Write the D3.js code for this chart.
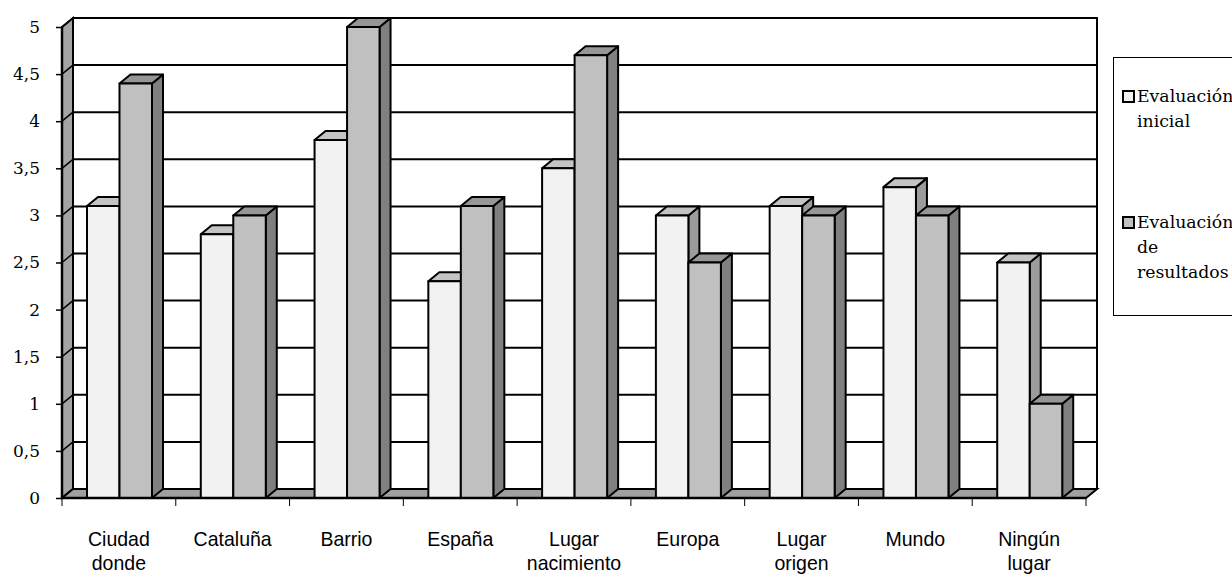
<!DOCTYPE html>
<html>
<head>
<meta charset="utf-8">
<script src="https://cdn.jsdelivr.net/npm/d3@7"></script>
<style>
  html, body { margin: 0; padding: 0; background: #fff; }
  svg { display: block; }
</style>
</head>
<body>
<svg id="chart" width="1232" height="577"></svg>
<script>
// Categories and the two evaluation series
const categories = ["Ciudad donde", "Cataluña", "Barrio", "España", "Lugar nacimiento",
                    "Europa", "Lugar origen", "Mundo", "Ningún lugar"];
const seriesNames = ["Evaluación inicial", "Evaluación de resultados"];
const inicial    = [3.1, 2.8, 3.8, 2.3, 3.5, 3.0, 3.1, 3.3, 2.5];
const resultados = [4.4, 3.0, 5.0, 3.1, 4.7, 2.5, 3.0, 3.0, 1.0];
const yTicks = [0, 0.5, 1, 1.5, 2, 2.5, 3, 3.5, 4, 4.5, 5];

const svg = d3.select("#chart");

// 3D depth offset of the back plane
const DX = 11, DY = -9;

const x = d3.scaleBand().domain(categories).range([62, 1086]).padding(0);
const xs = d3.scaleBand().domain([0, 1]).range([25, 90]).padding(0);
const y = d3.scaleLinear().domain([0, 5]).range([498, 27]);

const y0 = y(0), yMax = y(5);
const xL = x.range()[0], xR = x.range()[1];

const styles = [
  { front: "#f2f2f2", top: "#c4c4c4", side: "#9c9c9c" },
  { front: "#c0c0c0", top: "#969696", side: "#808080" }
];

const poly = pts => "M" + pts.map(p => p.join(",")).join("L") + "Z";

// back wall
svg.append("path")
  .attr("d", poly([[xL + DX, y0 + DY], [xL + DX, yMax + DY], [xR + DX, yMax + DY], [xR + DX, y0 + DY]]))
  .attr("fill", "#fff").attr("stroke", "#000").attr("stroke-width", 2);

// gridlines on the back wall
svg.append("g").selectAll("line").data(yTicks).join("line")
  .attr("x1", xL + DX).attr("x2", xR + DX)
  .attr("y1", d => y(d) + DY).attr("y2", d => y(d) + DY)
  .attr("stroke", "#000").attr("stroke-width", 2);

// side wall
svg.append("path")
  .attr("d", poly([[xL, y0], [xL + DX, y0 + DY], [xL + DX, yMax + DY], [xL, yMax]]))
  .attr("fill", "#a4a4a4").attr("stroke", "#000").attr("stroke-width", 2);
svg.append("g").selectAll("line").data(yTicks).join("line")
  .attr("x1", xL).attr("x2", xL + DX)
  .attr("y1", d => y(d)).attr("y2", d => y(d) + DY)
  .attr("stroke", "#000").attr("stroke-width", 1.5);

// floor
svg.append("path")
  .attr("d", poly([[xL, y0], [xR, y0], [xR + DX, y0 + DY], [xL + DX, y0 + DY]]))
  .attr("fill", "#a0a0a0").attr("stroke", "#000").attr("stroke-width", 2);

// bars
const series = [inicial, resultados];
categories.forEach((c, i) => {
  series.forEach((vals, s) => {
    const x0 = x(c) + xs(s), x1 = x0 + xs.bandwidth();
    const yt = y(vals[i]);
    const st = styles[s];
    const g = svg.append("g").attr("stroke", "#000").attr("stroke-width", 2).attr("stroke-linejoin", "round");
    g.append("path").attr("fill", st.side)
      .attr("d", poly([[x1, yt], [x1 + DX, yt + DY], [x1 + DX, y0 + DY], [x1, y0]]));
    g.append("path").attr("fill", st.top)
      .attr("d", poly([[x0, yt], [x0 + DX, yt + DY], [x1 + DX, yt + DY], [x1, yt]]));
    g.append("path").attr("fill", st.front)
      .attr("d", poly([[x0, yt], [x1, yt], [x1, y0], [x0, y0]]));
  });
});

// front edges of wall and floor
svg.append("line").attr("x1", xL).attr("x2", xL).attr("y1", yMax).attr("y2", y0)
  .attr("stroke", "#000").attr("stroke-width", 2.5);
svg.append("line").attr("x1", xL).attr("x2", xR).attr("y1", y0).attr("y2", y0)
  .attr("stroke", "#000").attr("stroke-width", 2.5);

// value axis
const fmt = d3.formatLocale({ decimal: ",", thousands: ".", grouping: [3], currency: ["", "€"] }).format("~g");
const yAxis = svg.append("g").attr("transform", `translate(${xL},0)`)
  .call(d3.axisLeft(y).tickValues(yTicks).tickSize(6).tickPadding(16).tickFormat(fmt));
yAxis.select(".domain").remove();
yAxis.selectAll(".tick line").attr("stroke", "#000").attr("stroke-width", 1.5);
yAxis.selectAll(".tick text")
  .attr("font-family", "DejaVu Serif").attr("font-size", 17).attr("fill", "#000");

// category ticks at band boundaries
const bounds = categories.map(c => x(c)).concat([xR]);
svg.append("g").selectAll("line").data(bounds).join("line")
  .attr("x1", d => d).attr("x2", d => d).attr("y1", y0).attr("y2", y0 + 8)
  .attr("stroke", "#000").attr("stroke-width", 1);

// category labels
const lab = svg.append("g").selectAll("g").data(categories).join("g")
  .attr("transform", d => `translate(${x(d) + x.bandwidth() / 2},546) scale(0.93,1)`);
lab.append("text")
  .attr("text-anchor", "middle")
  .attr("font-family", "Liberation Sans, Arial, sans-serif").attr("font-size", 21).attr("fill", "#000")
  .selectAll("tspan").data(d => d.split(" ")).join("tspan")
  .attr("x", 0).attr("y", (d, i) => i * 24.5).text(d => d);

// legend
const legend = svg.append("g");
legend.append("rect").attr("x", 1113.5).attr("y", 57.5).attr("width", 140).attr("height", 258)
  .attr("fill", "#fff").attr("stroke", "#000").attr("stroke-width", 1);
const legY = [102, 228];
seriesNames.forEach((name, s) => {
  legend.append("rect").attr("x", 1123).attr("y", legY[s] - 11).attr("width", 11).attr("height", 11)
    .attr("fill", styles[s].front).attr("stroke", "#000").attr("stroke-width", 2);
  legend.append("g").attr("transform", `translate(1137,${legY[s]}) scale(1.08,1)`)
    .append("text").attr("font-family", "DejaVu Serif").attr("font-size", 16).attr("fill", "#000")
    .selectAll("tspan").data(name.split(" ")).join("tspan")
    .attr("x", 0).attr("y", (d, i) => i * 25).text(d => d);
});
</script>
</body>
</html>
